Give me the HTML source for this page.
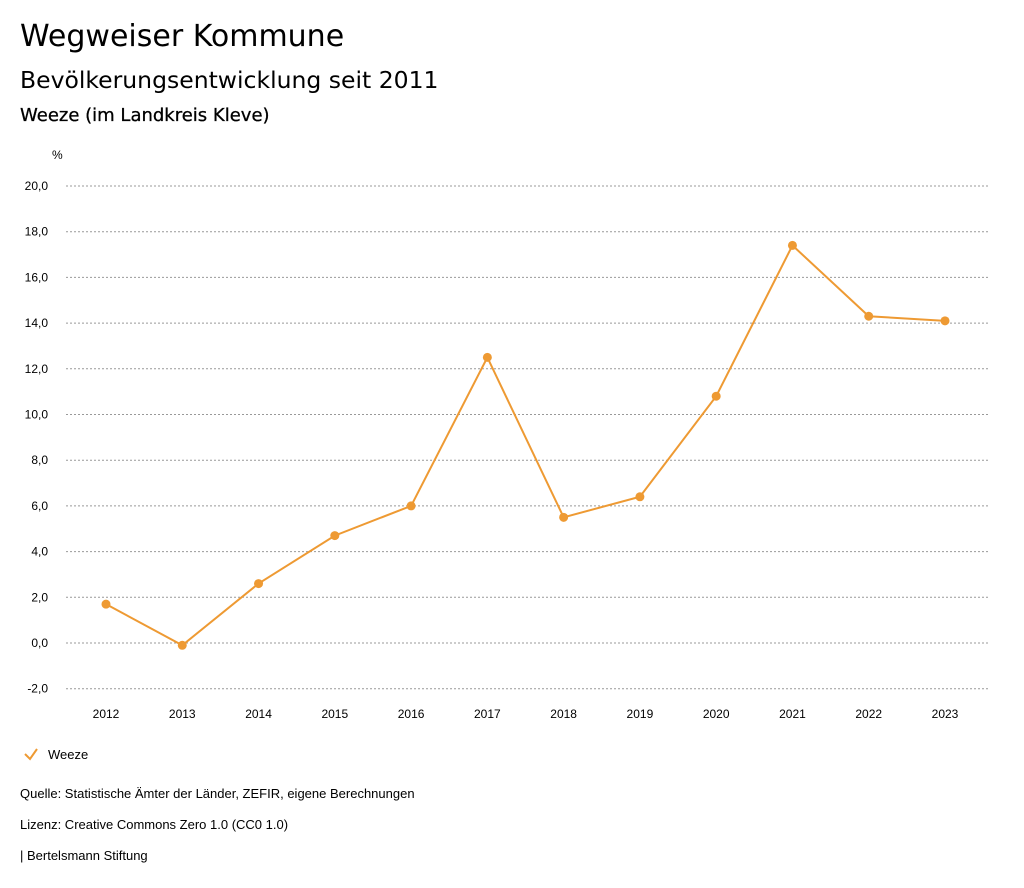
<!DOCTYPE html>
<html><head><meta charset="utf-8"><style>
body{margin:0;background:#fff;width:1024px;height:888px;overflow:hidden;font-family:"Liberation Sans",sans-serif;color:#000}
.t{position:absolute;left:20px;white-space:nowrap}
</style></head><body>
<div class="t" style="top:19px;font:30px 'DejaVu Sans',sans-serif">Wegweiser Kommune</div>
<div class="t" style="top:66px;font:23.5px 'DejaVu Sans',sans-serif">Bevölkerungsentwicklung seit 2011</div>
<div class="t" style="top:105px;font:18px 'DejaVu Sans',sans-serif;-webkit-text-stroke:0.3px #000">Weeze (im Landkreis Kleve)</div>
<svg id="chart" width="1024" height="888" style="position:absolute;left:0;top:0"></svg>
<div class="t" style="top:786px;font-size:13px">Quelle: Statistische Ämter der Länder, ZEFIR, eigene Berechnungen</div>
<div class="t" style="top:817px;font-size:13px">Lizenz: Creative Commons Zero 1.0 (CC0 1.0)</div>
<div class="t" style="top:848px;font-size:13px">| Bertelsmann Stiftung</div>
<script>
const years=[2012,2013,2014,2015,2016,2017,2018,2019,2020,2021,2022,2023];
const values=[1.7,-0.1,2.6,4.7,6.0,12.5,5.5,6.4,10.8,17.4,14.3,14.1];
const yTicks=[-2,0,2,4,6,8,10,12,14,16,18,20];
const svg=document.getElementById('chart');const NS='http://www.w3.org/2000/svg';
const x=i=>106+i*(945-106)/11;
const y=v=>643-v*(643-186)/20;
function mk(t,a,p){const e=document.createElementNS(NS,t);for(const k in a)e.setAttribute(k,a[k]);(p||svg).appendChild(e);return e;}
const c='#EE9A33';
let u=mk('text',{x:52,y:159,'font-size':12});u.textContent='%';


yTicks.forEach(v=>{
 const l=mk('line',{x1:66,x2:990,y1:y(v),y2:y(v),stroke:'#999','stroke-dasharray':'2,2','stroke-width':1});
 
 
 const t=mk('text',{x:48,y:y(v)+4,'font-size':12,'text-anchor':'end'});
 t.textContent=v.toFixed(1).replace('.',',');
 
 
});
years.forEach((yr,i)=>{
 const t=mk('text',{x:x(i),y:718,'font-size':12,'text-anchor':'middle'});t.textContent=yr;
 
 
});
const p=mk('polyline',{points:values.map((v,i)=>x(i)+','+y(v)).join(' '),fill:'none',stroke:c,'stroke-width':2});


values.forEach((v,i)=>{
 const d=mk('circle',{cx:x(i),cy:y(v),r:4.5,fill:c});
 
 
});
const g=mk('g',{});


mk('polyline',{points:'25,754 30,759 37,749',fill:'none',stroke:c,'stroke-width':2},g);
const lt=mk('text',{x:48,y:759,'font-size':13},g);lt.textContent='Weeze';
</script>
</body></html>
